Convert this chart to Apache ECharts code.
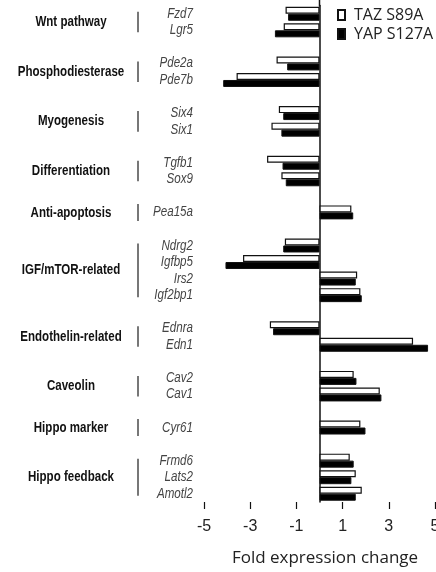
<!DOCTYPE html>
<html>
<head>
<meta charset="utf-8">
<script src="https://cdn.jsdelivr.net/npm/echarts@6/dist/echarts.min.js"></script>
<style>
  html, body { margin: 0; padding: 0; background: #fff; }
  #chart { width: 436px; height: 572px; }
</style>
</head>
<body>
<div id="chart"></div>
<script>
var groupNames = ['Wnt pathway', 'Phosphodiesterase', 'Myogenesis', 'Differentiation', 'Anti-apoptosis',
    'IGF/mTOR-related', 'Endothelin-related', 'Caveolin', 'Hippo marker', 'Hippo feedback'];
var groupSizes = [2, 2, 2, 2, 1, 4, 2, 2, 1, 3];
var genes = ['Fzd7', 'Lgr5', 'Pde2a', 'Pde7b', 'Six4', 'Six1', 'Tgfb1', 'Sox9', 'Pea15a',
    'Ndrg2', 'Igfbp5', 'Irs2', 'Igf2bp1', 'Ednra', 'Edn1', 'Cav2', 'Cav1', 'Cyr61',
    'Frmd6', 'Lats2', 'Amotl2'];
var tazS89A = [-1.47, -1.55, -1.86, -3.59, -1.76, -2.08, -2.27, -1.65, 1.38,
    -1.50, -3.31, 1.63, 1.77, -2.15, 4.05, 1.48, 2.61, 1.77,
    1.31, 1.57, 1.83];
var yapS127A = [-1.36, -1.93, -1.40, -4.17, -1.57, -1.65, -1.60, -1.46, 1.46,
    -1.57, -4.07, 1.57, 1.83, -2.01, 4.70, 1.60, 2.68, 1.99,
    1.48, 1.38, 1.57];
var xTicks = [-5, -3, -1, 1, 3, 5];

// one blank row between groups
var cats = [], tazData = [], yapData = [], groupSpans = [], geneRows = [];
var gi = 0;
groupSizes.forEach(function (n, k) {
    if (k > 0) { cats.push('_gap' + k); tazData.push('-'); yapData.push('-'); }
    var start = cats.length;
    for (var j = 0; j < n; j++, gi++) {
        geneRows.push([0, cats.length]);
        cats.push(genes[gi]);
        tazData.push(tazS89A[gi]);
        yapData.push(yapS127A[gi]);
    }
    groupSpans.push([0, start, cats.length - 1]);
});

var sans = '"Liberation Sans", Arial, sans-serif';

function renderGroup(params, api) {
    var y1 = api.coord([0, api.value(1)])[1];
    var y2 = api.coord([0, api.value(2)])[1];
    var mid = (y1 + y2) / 2;
    var half = Math.max(8.5, (y2 - y1) / 2 + 2);
    var kids = [
        { type: 'rect', shape: { x: 137, y: mid - half, width: 2, height: half * 2 }, style: { fill: '#777' } },
        { type: 'text', x: 71, y: mid, scaleX: 0.77, style: { text: groupNames[params.dataIndex], align: 'center', verticalAlign: 'middle',
            fontFamily: sans, fontWeight: 'bold', fontSize: 15, fill: '#111' } }
    ];
    if (params.dataIndex === 0) {
        // zero line runs up to the top edge
        var p = api.coord([0, 0]);
        var top = p[1] - api.size([0, 1])[1] / 2;
        kids.push({ type: 'rect', shape: { x: p[0] - 0.75, y: 0, width: 1.5, height: top + 1 }, style: { fill: '#111' } });
    }
    return { type: 'group', children: kids };
}

function renderGene(params, api) {
    var y = api.coord([0, api.value(1)])[1];
    return {
        type: 'text', x: 193, y: y, scaleX: 0.8,
        style: { text: genes[params.dataIndex], align: 'right', verticalAlign: 'middle',
            fontFamily: sans, fontStyle: 'italic', fontSize: 14.5, fill: '#444' }
    };
}

var chart = echarts.init(document.getElementById('chart'));
chart.setOption({
    animation: false,
    grid: { left: 204, right: 1, top: 5.5, bottom: 70, containLabel: false, outerBoundsMode: 'none' },
    legend: {
        data: ['TAZ S89A', 'YAP S127A'], orient: 'vertical', left: 332, top: 2,
        itemWidth: 7, itemHeight: 10, itemGap: 3, icon: 'rect',
        textStyle: { fontFamily: '"Open Sans", sans-serif', fontSize: 16, color: '#222', padding: [0, 0, 0, 4] }
    },
    xAxis: {
        type: 'value', min: -5, max: 5,
        axisLine: { lineStyle: { color: '#111', width: 1.5 } },
        axisTick: { show: true, length: 7, customValues: xTicks, lineStyle: { color: '#111', width: 1.2 } },
        axisLabel: { customValues: xTicks, margin: 17, fontFamily: sans, fontSize: 16, color: '#222' },
        splitLine: { show: false },
        name: 'Fold expression change', nameLocation: 'middle', nameGap: 48,
        nameTextStyle: { fontFamily: '"Open Sans", sans-serif', fontSize: 17, color: '#222', padding: [0, 0, 0, 11] }
    },
    yAxis: {
        type: 'category', data: cats, inverse: true,
        axisLine: { onZero: true, lineStyle: { color: '#111', width: 1.5 } },
        axisTick: { show: false },
        axisLabel: { show: false },
        splitLine: { show: false }
    },
    series: [
        {
            name: 'TAZ S89A', type: 'bar', data: tazData, barWidth: 7, barGap: '0%',
            itemStyle: { color: '#fff', borderColor: '#111', borderWidth: 1.2 }
        },
        {
            name: 'YAP S127A', type: 'bar', data: yapData, barWidth: 7, barGap: '0%',
            itemStyle: { color: '#000', borderColor: '#111', borderWidth: 1 }
        },
        {
            name: 'groups', type: 'custom', data: groupSpans, renderItem: renderGroup,
            encode: { x: 0, y: 1 }, silent: true, clip: false
        },
        {
            name: 'genes', type: 'custom', data: geneRows, renderItem: renderGene,
            encode: { x: 0, y: 1 }, silent: true, clip: false
        }
    ]
});
</script>
</body>
</html>
